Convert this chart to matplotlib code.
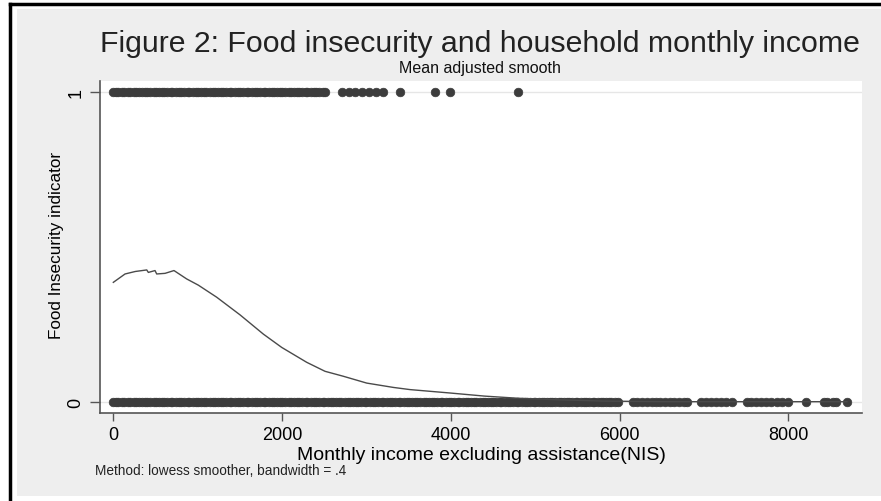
import matplotlib
matplotlib.use("Agg")
import matplotlib.pyplot as plt
from matplotlib.patches import Rectangle
from matplotlib.lines import Line2D

# Monthly income (NIS) of food-insecure households (indicator = 1)
income_insecure = [
    0, 30, 60, 100, 130, 170, 200, 240, 270, 300, 340, 380, 400, 440, 480,
    500, 540, 580, 600, 640, 680, 700, 740, 780, 800, 840, 880, 900, 940,
    980, 1000, 1040, 1080, 1100, 1140, 1180, 1200, 1240, 1280, 1300, 1340,
    1380, 1400, 1440, 1480, 1500, 1540, 1580, 1600, 1640, 1680, 1700, 1740,
    1780, 1800, 1840, 1880, 1900, 1940, 1980, 2000, 2040, 2080, 2100, 2140,
    2180, 2200, 2240, 2280, 2300, 2340, 2380, 2400, 2440, 2480, 2510,
    2710, 2790, 2870, 2950, 3030, 3110, 3200, 3400, 3810, 3990, 4800,
]

# Monthly income (NIS) of food-secure households (indicator = 0)
income_secure = [
    0, 30, 60, 100, 130, 170, 200, 240, 270, 300, 340, 380, 400, 440, 480,
    500, 540, 580, 600, 640, 680, 700, 740, 780, 800, 840, 880, 900, 940,
    980, 1000, 1040, 1080, 1100, 1140, 1180, 1200, 1240, 1280, 1300, 1340,
    1380, 1400, 1440, 1480, 1500, 1540, 1580, 1600, 1640, 1680, 1700, 1740,
    1780, 1800, 1840, 1880, 1900, 1940, 1980, 2000, 2040, 2080, 2100, 2140,
    2180, 2200, 2240, 2280, 2300, 2340, 2380, 2400, 2440, 2480, 2500, 2540,
    2580, 2600, 2640, 2680, 2700, 2740, 2780, 2800, 2840, 2880, 2900, 2940,
    2980, 3000, 3040, 3080, 3100, 3140, 3180, 3200, 3240, 3280, 3300, 3340,
    3380, 3400, 3440, 3480, 3500, 3540, 3580, 3600, 3640, 3680, 3700, 3740,
    3780, 3800, 3840, 3880, 3900, 3940, 3980, 4000, 4040, 4080, 4100, 4140,
    4180, 4200, 4240, 4280, 4300, 4340, 4380, 4400, 4440, 4480, 4500, 4540,
    4580, 4600, 4640, 4680, 4700, 4740, 4780, 4800, 4840, 4880, 4900, 4940,
    4980, 5000, 5040, 5080, 5100, 5140, 5180, 5200, 5240, 5280, 5300, 5340,
    5380, 5400, 5440, 5480, 5500, 5540, 5580, 5600, 5640, 5680, 5700, 5740,
    5780, 5800, 5840, 5880, 5900, 5940, 5980,
    6160, 6210, 6260, 6320, 6380, 6430, 6480, 6540, 6600, 6650, 6700, 6760, 6800,
    6965, 7020, 7080, 7140, 7200, 7260, 7330,
    7510, 7560, 7620, 7680, 7740, 7800, 7860, 7920, 7996,
    8207, 8420, 8460, 8530, 8570, 8695,
]

# Lowess smooth of the indicator on income (bandwidth .4, mean adjusted)
smooth_x = [
    0, 139, 260, 396, 415, 494, 514, 613, 719, 869, 1007, 1225, 1502,
    1778, 1996, 2292, 2509, 2726, 3003, 3319, 3516, 3991, 4400, 4800,
    5300, 5800, 6500, 7500, 8695,
]
smooth_y = [
    0.385, 0.412, 0.420, 0.425, 0.417, 0.423, 0.412, 0.414, 0.423, 0.396,
    0.376, 0.337, 0.280, 0.218, 0.175, 0.127, 0.098, 0.082, 0.060, 0.046,
    0.039, 0.028, 0.018, 0.011, 0.006, 0.002, 0.000, 0.000, 0.000,
]

x_ticks = [0, 2000, 4000, 6000, 8000]
y_ticks = [0, 1]

W, H = 881, 502
FONT = "Liberation Sans"
INK = "#3c3c3c"

fig = plt.figure(figsize=(W / 100, H / 100), dpi=100, facecolor="white")


def fx(px):
    return px / W


def fy(py):
    return 1 - py / H


# Graph region background and outer frame
fig.patches.append(Rectangle((fx(17), fy(497)), fx(881) - fx(17), fy(10) - fy(497),
                             transform=fig.transFigure, facecolor="#eeeeee",
                             edgecolor="none", zorder=-5))
fig.lines.append(Line2D([fx(9.5), fx(9.5)], [fy(502), fy(5)], transform=fig.transFigure,
                        color="black", lw=2.5, zorder=-4))
fig.lines.append(Line2D([fx(9.5), fx(881)], [fy(5), fy(5)], transform=fig.transFigure,
                        color="black", lw=2.5, zorder=-4))

ax = fig.add_axes([fx(100), fy(414), fx(862) - fx(100), fy(82) - fy(414)])
ax.set_zorder(2)
ax.set_facecolor("white")

ax.plot(income_insecure, [1] * len(income_insecure), "o", color=INK, ms=6.2,
        mec=INK, mew=0.5, zorder=3)
ax.plot(income_secure, [0] * len(income_secure), "o", color=INK, ms=6.2,
        mec=INK, mew=0.5, zorder=3)
ax.plot(smooth_x, smooth_y, "-", color="#4a4a4a", lw=1.0, zorder=4)

for yv in y_ticks:
    ax.axhline(yv, color="#e6e6e6", lw=1.0, zorder=1)

ax.set_xlim(-158, 8873)
ax.set_ylim(-0.0365, 1.0345)
ax.set_xticks(x_ticks)
ax.set_yticks(y_ticks)
ax.set_xticklabels([str(v) for v in x_ticks], fontname=FONT, fontsize=13)
ax.set_yticklabels([str(v) for v in y_ticks], fontname=FONT, fontsize=13,
                   rotation=90, va="center")
ax.tick_params(axis="x", direction="out", length=6, width=1, color="#555555",
               pad=3)
ax.tick_params(axis="y", direction="out", length=7, width=1, color="#555555",
               pad=4)

for side in ("top", "right"):
    ax.spines[side].set_visible(False)
for side in ("left", "bottom"):
    ax.spines[side].set_color("#555555")
    ax.spines[side].set_linewidth(1.2)

ax.set_xlabel("Monthly income excluding assistance(NIS)", fontname=FONT,
              fontsize=14, va="center")
ax.xaxis.set_label_coords(0.5, -(456 - 414) / 332)
ax.set_ylabel("Food Insecurity indicator", fontname=FONT, fontsize=12.3,
              va="center", ha="center")
ax.yaxis.set_label_coords((57 - 100) / 762, (414 - 245) / 332)

fig.text(fx(480), fy(44), "Figure 2: Food insecurity and household monthly income",
         fontname=FONT, fontsize=21.8, ha="center", va="center", color="#222222")
fig.text(fx(480), fy(68), "Mean adjusted smooth", fontname=FONT, fontsize=11.5,
         ha="center", va="center", color="#111111")
fig.text(fx(95), fy(471), "Method: lowess smoother, bandwidth = .4", fontname=FONT,
         fontsize=9.8, ha="left", va="center", color="#222222")

fig.savefig("out.png", dpi=100, facecolor="white")
